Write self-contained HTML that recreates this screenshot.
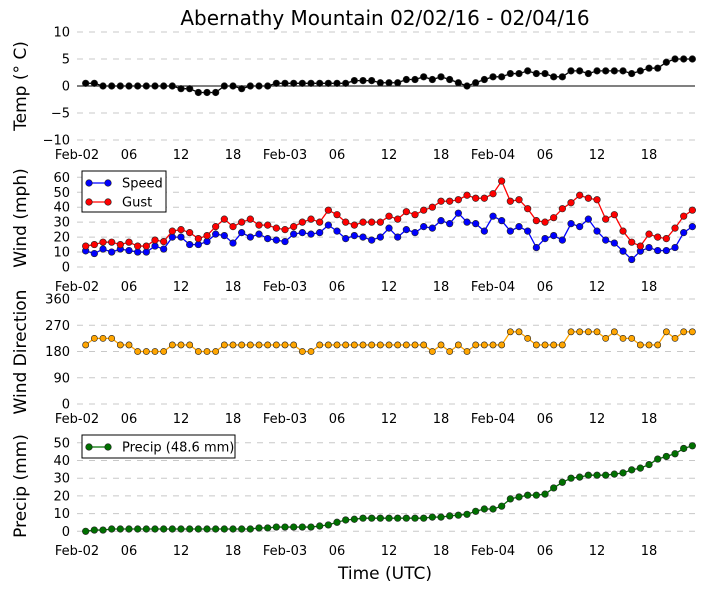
<!DOCTYPE html>
<html><head><meta charset="utf-8"><style>
body{margin:0;background:#fff;font-family:"Liberation Sans","DejaVu Sans",sans-serif;}
svg text{font-family:"DejaVu Sans","Liberation Sans",sans-serif;}
</style></head><body>
<svg id="c" width="705" height="593" xmlns="http://www.w3.org/2000/svg">
<text x="385" y="25" font-size="20" text-anchor="middle">Abernathy Mountain 02/02/16 - 02/04/16</text>
<text x="385" y="579" font-size="17" text-anchor="middle">Time (UTC)</text>
</svg>
<script>
const tempVals=[0.5,0.5,0,0,0,0,0,0,0,0,0,-0.5,-0.5,-1.2,-1.2,-1.2,0,0,-0.5,0,0,0,0.5,0.5,0.5,0.5,0.5,0.5,0.5,0.5,0.5,1,1,1,
0.6,0.6,0.6,1.2,1.2,1.7,1.2,1.7,1.2,0.6,0,0.6,1.2,1.7,1.7,2.3,2.3,2.8,2.3,2.3,1.7,1.7,2.8,2.8,2.3,2.8,2.8,2.8,2.8,2.3,2.8,3.3,3.3,4.4,5,5,5];
const speedVals=[10.8,9,12,10,12,11,10,10,14,12,20,20,15,15,17,22,21,16,23,20,22,19,18,17,22,23,22,23,28,24,19,21,20,18,
20,26,20,25,23,27,26,31,29,36,30,29,24,34,31,24,27,24,13,19,21,18,29,27,32,24,18,16,10.6,5,10.6,13,11,11,13,23,27];
const gustVals=[14,15,16.6,16.6,15,16.6,14,14,18,17,24,25,23,19,21,27,32,27,30,32,28,28,26,25,27,30,32,30,38,35,30,28,30,30,
30,34,32,37,35,38,40,44,44,45,48,46,46,49,57.5,44,45,39,31,30,33,39,43,48,46,45,32,35,24,16.6,14,22,20,19,26,34,38];
const dirVals=[202.5,225,225,225,202.5,202.5,180,180,180,180,202.5,202.5,202.5,180,180,180,202.5,202.5,202.5,202.5,202.5,202.5,202.5,202.5,202.5,180,180,202.5,202.5,202.5,202.5,202.5,202.5,202.5,
202.5,202.5,202.5,202.5,202.5,202.5,180,202.5,180,202.5,180,202.5,202.5,202.5,202.5,247.5,247.5,225,202.5,202.5,202.5,202.5,247.5,247.5,247.5,247.5,225,247.5,225,225,202.5,202.5,202.5,247.5,225,247.5,247.5];
const precipVals=[0,0.7,0.7,1.3,1.3,1.3,1.3,1.3,1.3,1.3,1.3,1.3,1.3,1.3,1.3,1.3,1.3,1.3,1.3,1.3,1.9,1.9,2.4,2.4,2.4,2.4,2.4,3,3.6,5.1,6.4,6.8,7.4,7.4,
7.4,7.4,7.4,7.4,7.4,7.4,8,8,8.7,9.1,9.6,11.3,12.6,12.6,14.2,18.3,19.4,20.4,20.4,21,24.5,27.7,30,30.6,31.7,31.7,31.7,32.3,33,34.7,35.7,37.7,40.8,42.3,43.8,46.8,48.3];
const xTickLabels=["Feb-02","06","12","18","Feb-03","06","12","18","Feb-04","06","12","18"];
const tempTicks=[10,5,0,-5,-10];
const windTicks=[0,10,20,30,40,50,60];
const dirTicks=[0,90,180,270,360];
const precipTicks=[0,10,20,30,40,50];

const svg=document.getElementById('c');
const NS='http://www.w3.org/2000/svg';
function mk(tag,attrs,parent){const e=document.createElementNS(NS,tag);for(const k in attrs)e.setAttribute(k,attrs[k]);(parent||svg).appendChild(e);return e;}
const X0=77,X1=695;
function xs(h){return X0+h*8.667;}
function panel(name,vmin,vmax,ytop,ybot,ticks,ylabel,labY,tickY){
  const g=mk('g',{});
  
  
  const ys=v=>ybot-(v-vmin)/(vmax-vmin)*(ybot-ytop);
  ticks.forEach(t=>{
    const l=mk('line',{x1:X0,x2:X1,y1:ys(t),y2:ys(t),stroke:'#c8c8c8','stroke-dasharray':'6,6','stroke-width':1},g);
    
    
    const tx=mk('text',{x:70,y:ys(t)+4.5,'font-size':13,'text-anchor':'end'},g);
    tx.textContent=(t<0?'\u2212'+(-t):t);
    
    
  });
  xTickLabels.forEach((s,i)=>{
    const tx=mk('text',{x:xs(i*6),y:tickY,'font-size':13,'text-anchor':'middle'},g);
    tx.textContent=s;
    
    
  });
  const yl=mk('text',{x:0,y:0,'font-size':17,'text-anchor':'middle',transform:`translate(26,${labY}) rotate(-90)`},g);
  yl.textContent=ylabel;
  
  
  return {g,ys};
}
function series(p,vals,color,name,r){
  const pts=vals.map((v,i)=>[xs(i+1),p.ys(v)]);
  const pl=mk('polyline',{points:pts.map(q=>q.join(',')).join(' '),fill:'none',stroke:color,'stroke-width':1.3},p.g);
  
  
  pts.forEach(q=>{
    const c=mk('circle',{cx:q[0],cy:q[1],r:r||3.3,fill:color,stroke:'#222','stroke-width':0.6},p.g);
    
    
  });
}
const p1=panel('temp',-10,10,32,140,tempTicks,'Temp (\u00B0 C)',86,159);
const z=mk('line',{x1:X0,x2:X1,y1:p1.ys(0),y2:p1.ys(0),stroke:'#000','stroke-width':1},p1.g);


series(p1,tempVals,'#000','temp',3.3);
const p2=panel('wind',0,60,177.3,267,windTicks,'Wind (mph)',218,291);
series(p2,speedVals,'#0000ff','speed');
series(p2,gustVals,'#ff0000','gust');
const p3=panel('direction',0,360,299,404,dirTicks,'Wind Direction',352,423);
series(p3,dirVals,'#ffa500','direction',3.1);
const p4=panel('precip',0,50,442.8,531.3,precipTicks,'Precip (mm)',486,555);
series(p4,precipVals,'#007000','precip',3.3);
function legend(name,x,y,w,h,items){
  const g=mk('g',{});
  
  
  mk('rect',{x:x,y:y,width:w,height:h,fill:'#fff',stroke:'#000','stroke-width':1},g);
  items.forEach((it,i)=>{
    const yy=y+12+i*19;
    mk('line',{x1:x+7,x2:x+26,y1:yy,y2:yy,stroke:it.c,'stroke-width':1.3},g);
    mk('circle',{cx:x+7,cy:yy,r:3.3,fill:it.c,stroke:'#222','stroke-width':0.6},g);
    mk('circle',{cx:x+26,cy:yy,r:3.3,fill:it.c,stroke:'#222','stroke-width':0.6},g);
    const t=mk('text',{x:x+40,y:yy+4.5,'font-size':13},g);
    t.textContent=it.t;
    
    
  });
}
legend('wind-legend',82,171,84,41,[{c:'#0000ff',t:'Speed'},{c:'#ff0000',t:'Gust'}]);
legend('precip-legend',82,435,153,23,[{c:'#007000',t:'Precip (48.6 mm)'}]);
</script>
</body></html>
